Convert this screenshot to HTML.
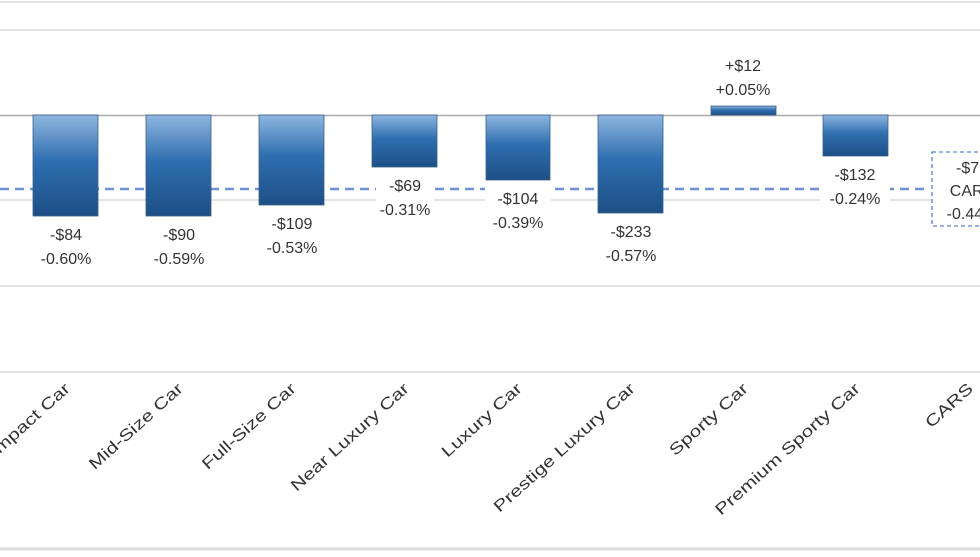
<!DOCTYPE html>
<html><head><style>body{margin:0;background:#fff}</style></head><body>
<svg width="980" height="552" xmlns="http://www.w3.org/2000/svg" font-family="Liberation Sans, sans-serif">
<defs><linearGradient id="g" x1="0" y1="0" x2="0" y2="1"><stop offset="0" stop-color="#8fb6e0"/><stop offset="0.45" stop-color="#2f6fb0"/><stop offset="1" stop-color="#1d4f86"/></linearGradient></defs>
<rect width="980" height="552" fill="#fff"/>
<g stroke="#dcdcdc" stroke-width="1.5">
<line x1="0" y1="2" x2="980" y2="2"/><line x1="0" y1="30" x2="980" y2="30"/>
<line x1="0" y1="200" x2="980" y2="200"/><line x1="0" y1="286" x2="980" y2="286"/>
<line x1="0" y1="372" x2="980" y2="372"/><line x1="0" y1="549" x2="980" y2="549" stroke-width="3"/></g>
<line x1="0" y1="115.5" x2="980" y2="115.5" stroke="#aaa" stroke-width="1.5"/>
<line x1="0" y1="189" x2="930" y2="189" stroke="#6f8fd6" stroke-width="2.5" stroke-dasharray="9,6"/>
<g fill="url(#g)" stroke="#3a5f8a" stroke-width="0.8">
<rect x="33" y="115" width="65" height="101"/><rect x="146" y="115" width="65" height="101"/>
<rect x="259" y="115" width="65" height="90"/><rect x="372" y="115" width="65" height="52"/>
<rect x="486" y="115" width="64" height="65"/><rect x="598" y="115" width="65" height="98"/>
<rect x="711" y="106" width="65" height="9"/><rect x="823" y="115" width="65" height="41"/></g>
<g fill="#fff"><rect x="376" y="175" width="58" height="42"/><rect x="485" y="187" width="66" height="44"/><rect x="820" y="162" width="70" height="44"/></g>
<rect x="932" y="152" width="60" height="74" fill="#fff" stroke="#5b7fd0" stroke-width="1.3" stroke-dasharray="4,3"/>
<g font-size="16" fill="#333" text-anchor="middle">
<text x="66" y="240">-$84</text><text x="66" y="264">-0.60%</text>
<text x="179" y="240">-$90</text><text x="179" y="264">-0.59%</text>
<text x="292" y="229">-$109</text><text x="292" y="253">-0.53%</text>
<text x="405" y="191">-$69</text><text x="405" y="215">-0.31%</text>
<text x="518" y="204">-$104</text><text x="518" y="228">-0.39%</text>
<text x="631" y="237">-$233</text><text x="631" y="261">-0.57%</text>
<text x="743" y="71">+$12</text><text x="743" y="95">+0.05%</text>
<text x="855" y="180">-$132</text><text x="855" y="204">-0.24%</text>
<text x="972" y="173">-$75</text><text x="972" y="196">CARS</text><text x="972" y="219">-0.44%</text></g>
<g font-size="16" fill="#333" text-anchor="end">
<text transform="translate(71,390) rotate(-42) scale(1.3,1)">Compact Car</text>
<text transform="translate(184,390) rotate(-42) scale(1.3,1)">Mid-Size Car</text>
<text transform="translate(297,390) rotate(-42) scale(1.3,1)">Full-Size Car</text>
<text transform="translate(410,390) rotate(-42) scale(1.3,1)">Near Luxury Car</text>
<text transform="translate(523,390) rotate(-42) scale(1.3,1)">Luxury Car</text>
<text transform="translate(636,390) rotate(-42) scale(1.3,1)">Prestige Luxury Car</text>
<text transform="translate(749,390) rotate(-42) scale(1.3,1)">Sporty Car</text>
<text transform="translate(861,390) rotate(-42) scale(1.3,1)">Premium Sporty Car</text>
<text transform="translate(974,390) rotate(-42) scale(1.3,1)">CARS</text></g>
</svg>
</body></html>
